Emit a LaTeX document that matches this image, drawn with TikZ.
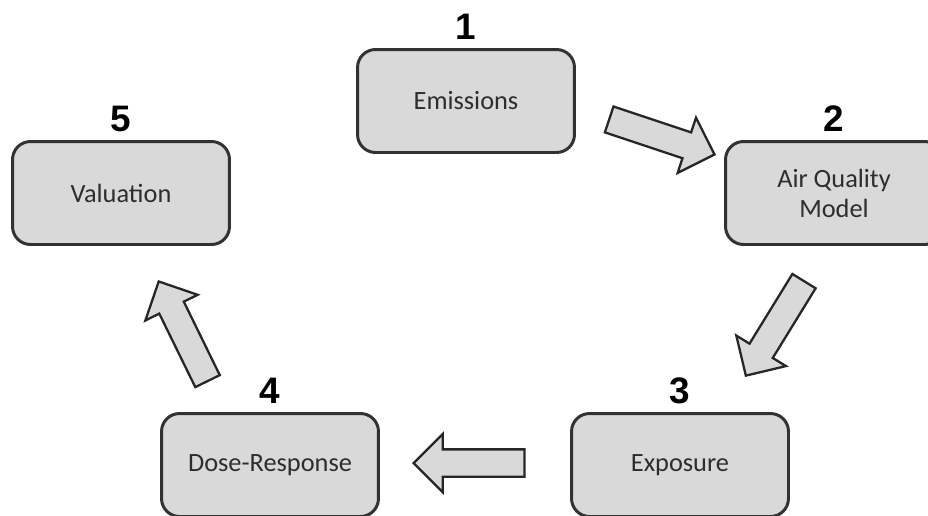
\documentclass[tikz,border=0pt]{standalone}
\usepackage{fontspec}
\setsansfont{Carlito}
\newfontfamily\numfont{Liberation Sans}
\usepackage{xcolor}
\usetikzlibrary{positioning,shapes.arrows}

\definecolor{boxfill}{RGB}{217,217,217}
\definecolor{boxline}{RGB}{50,50,50}
\definecolor{boxtext}{RGB}{45,45,45}

\begin{document}
\begin{tikzpicture}[x=0.02cm, y=-0.02cm,
    stage/.style={draw=boxline, line width=1.7pt, fill=boxfill, rounded corners=0.36cm,
        minimum width=4.34cm, minimum height=2.06cm, align=center, text=boxtext,
        font=\sffamily\fontsize{15}{17}\selectfont},
    num/.style={inner sep=0pt, font=\numfont\bfseries\fontsize{21}{24}\selectfont},
    blockarrow/.style={single arrow, draw=black!85, line width=1.3pt, fill=boxfill,
        minimum height=2.22cm, single arrow head extend=0.31cm,
        inner sep=0.25cm}]
    \useasboundingbox (0,0) rectangle (928,515);

    % Stages: name / x / y / label / number
    \foreach \name/\x/\y/\txt/\num in {
        emis/466/101/{Emissions}/1,
        aqm/834/193/{Air Quality\\Model}/2,
        expo/680/465/{Exposure}/3,
        dose/270/465/{Dose-Response}/4,
        valu/121/193/{Valuation}/5
    } {
        \node[stage] (\name) at (\x,\y) {\txt};
        \node[num, above=0.16cm of \name] (\name-n) {\num};
    }

    % Block arrows: name / tip x / tip y / angle
    \foreach \nm/\x/\y/\ang in {
        arr1/716/155/-18.4,
        arr2/745/377/-121.6,
        arr3/412/463/180,
        arr4/158/280/116.1
    } {
        \node[blockarrow, rotate=\ang, anchor=tip] (\nm) at (\x,\y) {};
    }
\end{tikzpicture}
\end{document}
